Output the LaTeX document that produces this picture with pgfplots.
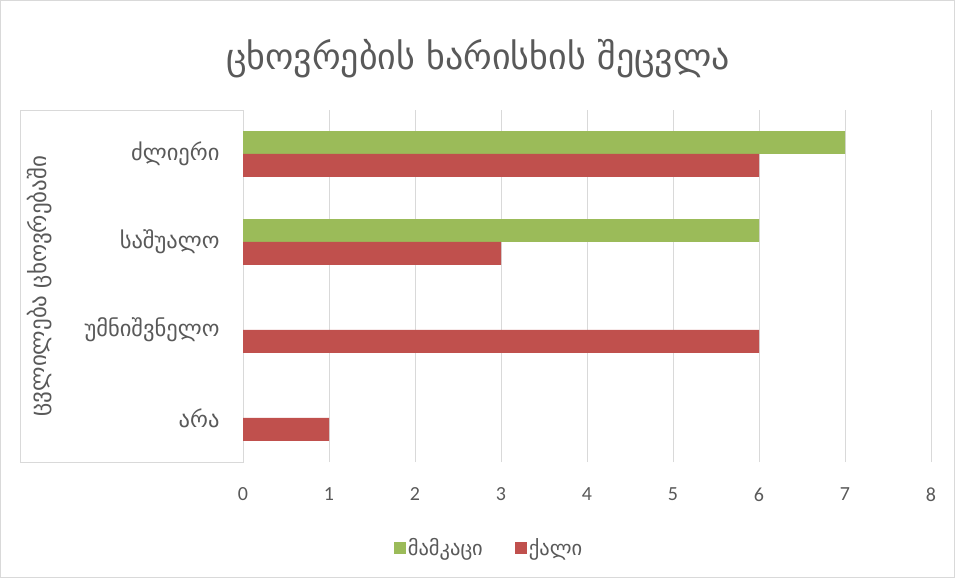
\documentclass[border=0pt]{standalone}
\usepackage{fontspec}
\setmainfont{DejaVu Sans}
\newfontfamily\carlito{Carlito}
\usepackage{pgfplots}
\pgfplotsset{compat=1.18}
\definecolor{mgreen}{HTML}{9BBB59}
\definecolor{fred}{HTML}{C0504D}
\definecolor{gridgray}{HTML}{D9D9D9}
\definecolor{txtgray}{HTML}{595959}

\begin{document}
\begin{tikzpicture}
  \useasboundingbox (0,0) rectangle (955pt,578pt);
  \draw[gridgray] (0.5pt,0.5pt) rectangle (954.5pt,577.5pt);
  \draw[gridgray] (20pt,116pt) rectangle (243pt,468pt);
  \begin{axis}
    [
      at={(243pt,116pt)}, anchor=south west,
      scale only axis,
      width=688pt, height=352pt,
      xmin=0, xmax=8, ymin=-0.5, ymax=3.5,
      xtick={0,1,...,8},
      ytick={0,1,2,3},
      yticklabels={არა, უმნიშვნელო, საშუალო, ძლიერი},
      xbar, bar width=0.26,
      axis line style={draw=none},
      major tick length=0pt,
      xmajorgrids = true,
      grid style={gridgray, line width=0.9pt},
      /pgf/number format/assume math mode=true,
      xticklabel style={font=\carlito\fontsize{20}{24}\selectfont, text=txtgray, yshift=-22pt},
      yticklabel style={font=\fontsize{22.5}{26}\selectfont, text=txtgray, xshift=-20pt},
      title={ცხოვრების ხარისხის შეცვლა},
      title style={at={(axis description cs:0.3416,1.13)}, anchor=center,
        font=\fontsize{36}{42}\selectfont, text=txtgray},
      ylabel={ცვლილება ცხოვრებაში},
      ylabel style={at={(axis description cs:-0.295,0.5)}, anchor=center, rotate=0,
        font=\fontsize{23}{27}\selectfont, text=txtgray},
      legend columns=2,
      legend style={at={(axis description cs:0.3576,-0.244)}, anchor=center,
        draw=none, fill=none, font=\fontsize{20.5}{24}\selectfont, text=txtgray,
        /tikz/every even column/.append style={column sep=30pt}},
      legend image code/.code={\fill[#1,draw=none] (0pt,-6pt) rectangle (12pt,6pt);},
    ]

    % men
    \addplot[fill=mgreen, draw=none, bar shift=0.13] coordinates {
        (7,3)
        (6,2)
      };

    % women
    \addplot[fill=fred, draw=none, bar shift=-0.13] coordinates {
        (6,3)
        (3,2)
        (6,1)
        (1,0)
      };

    \legend{მამკაცი, ქალი}
  \end{axis}
\end{tikzpicture}
\end{document}
